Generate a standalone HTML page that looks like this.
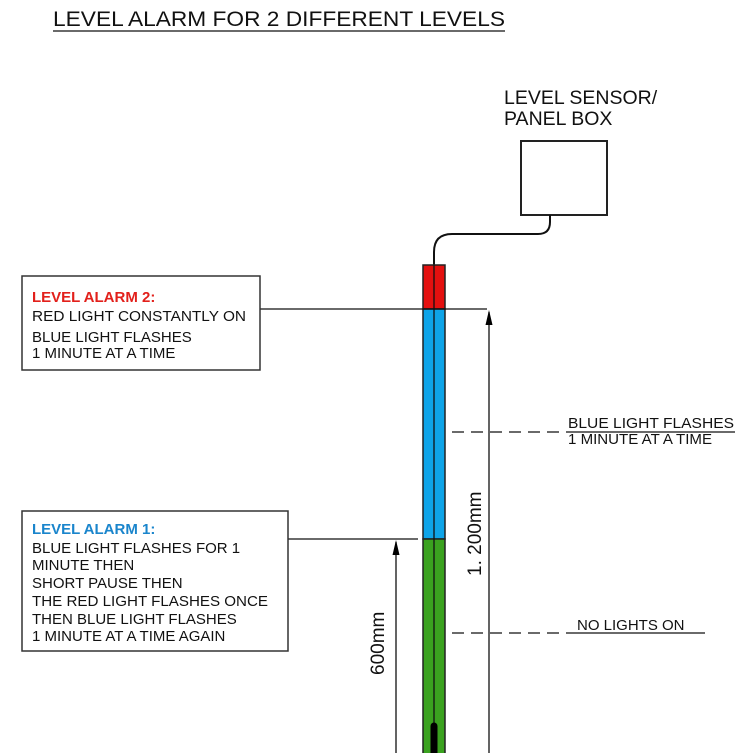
<!DOCTYPE html>
<html><head><meta charset="utf-8"><style>html,body{margin:0;padding:0;background:#fff}svg{display:block}text{font-family:"Liberation Sans",Arial,sans-serif}</style></head>
<body>
<svg width="741" height="753" viewBox="0 0 741 753" xmlns="http://www.w3.org/2000/svg">
<text x="53" y="26" font-size="21" fill="#111" textLength="452" lengthAdjust="spacingAndGlyphs">LEVEL ALARM FOR 2 DIFFERENT LEVELS</text>
<line x1="53" y1="31" x2="505" y2="31" stroke="#111" stroke-width="1.3"/>
<text x="504" y="104" font-size="19.5" fill="#111">LEVEL SENSOR/</text>
<text x="504" y="125" font-size="19.5" fill="#111">PANEL BOX</text>
<rect x="521" y="141" width="86" height="74" fill="#fff" stroke="#222" stroke-width="2"/>
<path d="M550,215 V222 Q550,234 538,234 H452 Q434,234 434,252 V265" fill="none" stroke="#111" stroke-width="2"/>
<rect x="423" y="265" width="22" height="44" fill="#e4100f" stroke="#222" stroke-width="1.5"/>
<rect x="423" y="309" width="22" height="230" fill="#0ea4e8" stroke="#222" stroke-width="1.5"/>
<rect x="423" y="539" width="22" height="220" fill="#3aa21f" stroke="#222" stroke-width="1.5"/>
<line x1="434" y1="265" x2="434" y2="753" stroke="#111" stroke-width="1.3"/>
<line x1="434" y1="726" x2="434" y2="753" stroke="#000" stroke-width="7" stroke-linecap="round"/>
<line x1="260" y1="309" x2="487" y2="309" stroke="#111" stroke-width="1.3"/>
<line x1="288" y1="539" x2="418" y2="539" stroke="#111" stroke-width="1.3"/>
<line x1="489" y1="312" x2="489" y2="753" stroke="#111" stroke-width="1.3"/>
<path d="M489,310 L485.5,325 L492.5,325 Z" fill="#000"/>
<line x1="396" y1="542" x2="396" y2="753" stroke="#111" stroke-width="1.3"/>
<path d="M396,540 L392.5,555 L399.5,555 Z" fill="#000"/>
<text transform="translate(481,576) rotate(-90)" font-size="19" fill="#111">1. 200mm</text>
<text transform="translate(384,675) rotate(-90)" font-size="19" fill="#111">600mm</text>
<line x1="452" y1="432" x2="566" y2="432" stroke="#111" stroke-width="1.3" stroke-dasharray="12,7"/>
<line x1="566" y1="432" x2="735" y2="432" stroke="#111" stroke-width="1.3"/>
<text x="568" y="428" font-size="15" fill="#111" textLength="166" lengthAdjust="spacingAndGlyphs">BLUE LIGHT FLASHES</text>
<text x="568" y="444" font-size="15" fill="#111" textLength="144" lengthAdjust="spacingAndGlyphs">1 MINUTE AT A TIME</text>
<line x1="452" y1="633" x2="575" y2="633" stroke="#111" stroke-width="1.3" stroke-dasharray="12,7"/>
<line x1="575" y1="633" x2="705" y2="633" stroke="#111" stroke-width="1.3"/>
<text x="577" y="630" font-size="15" fill="#111">NO LIGHTS ON</text>
<rect x="22" y="276" width="238" height="94" fill="#fff" stroke="#333" stroke-width="1.5"/>
<text x="32" y="302" font-size="15" font-weight="bold" fill="#e2201b">LEVEL ALARM 2:</text>
<text x="32" y="321" font-size="15" fill="#111" textLength="214" lengthAdjust="spacingAndGlyphs">RED LIGHT CONSTANTLY ON</text>
<text x="32" y="342" font-size="15" fill="#111">BLUE LIGHT FLASHES</text>
<text x="32" y="358" font-size="15" fill="#111">1 MINUTE AT A TIME</text>
<rect x="22" y="511" width="266" height="140" fill="#fff" stroke="#333" stroke-width="1.5"/>
<text x="32" y="534" font-size="15" font-weight="bold" fill="#1a85cc">LEVEL ALARM 1:</text>
<text x="32" y="553" font-size="15" fill="#111">BLUE LIGHT FLASHES FOR 1</text>
<text x="32" y="570" font-size="15" fill="#111">MINUTE   THEN</text>
<text x="32" y="588" font-size="15" fill="#111">SHORT PAUSE THEN</text>
<text x="32" y="606" font-size="15" fill="#111" textLength="236" lengthAdjust="spacingAndGlyphs">THE RED LIGHT FLASHES ONCE</text>
<text x="32" y="624" font-size="15" fill="#111">THEN BLUE LIGHT FLASHES</text>
<text x="32" y="641" font-size="15" fill="#111">1 MINUTE AT A TIME AGAIN</text>
</svg>
</body></html>
